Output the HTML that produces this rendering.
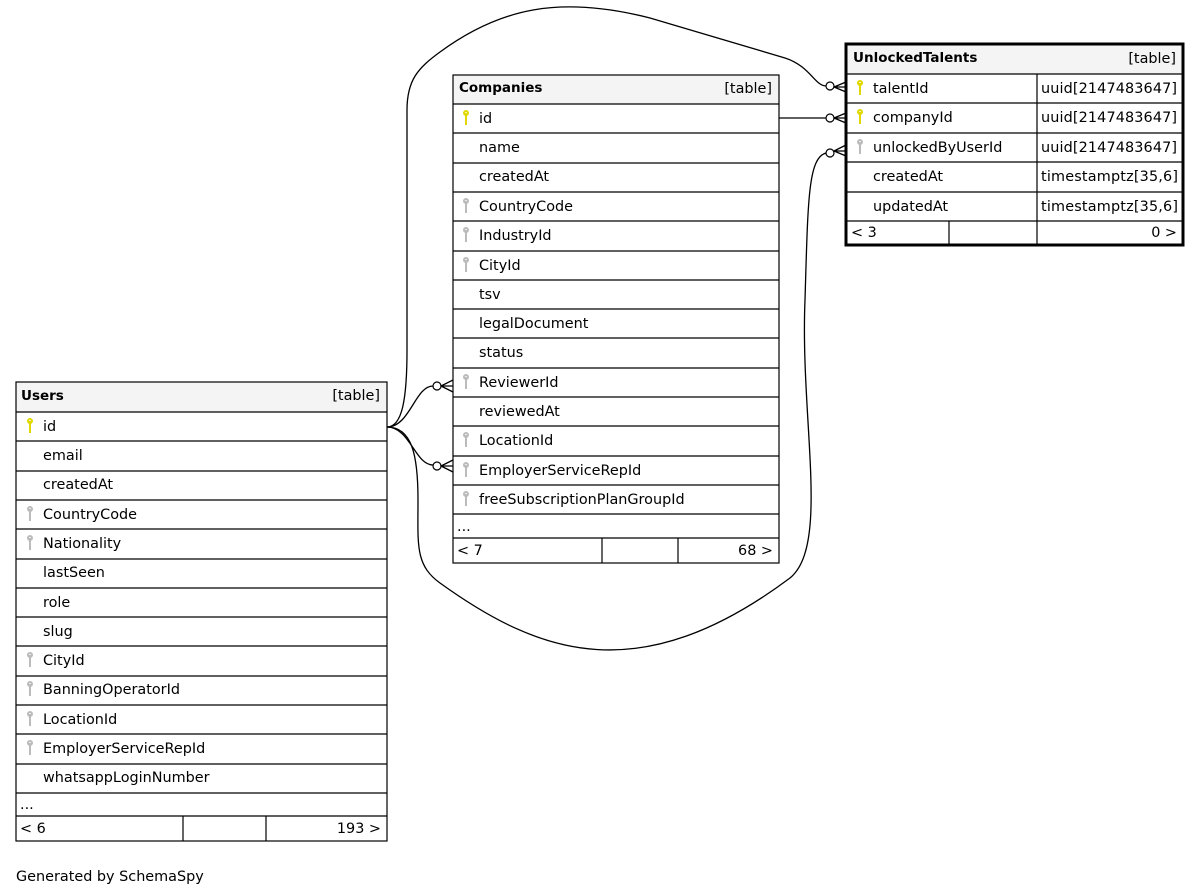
<!DOCTYPE html>
<html><head><meta charset="utf-8"><style>
html,body{margin:0;padding:0;background:#fff;}
svg{display:block;font-family:"DejaVu Sans","Liberation Sans",sans-serif;font-size:14.4px;}
</style></head><body>
<svg width="1201" height="896" viewBox="0 0 1201 896" xmlns="http://www.w3.org/2000/svg">
<g fill="none" stroke="#000" stroke-width="1.3">
<path d="M387,427 C410,427 415,386 433,386"/>
<path d="M387,427 C410,427 415,465 433,465"/>
<path d="M387,427 C412,427 418,455 418,500 C418,545 415,565 440,583 C540,655 640,690 790,578 C830,545 800,420 805,300 C808,200 808,158 826,153"/>
<path d="M387,427 C402,427 407,400 407,350 L407,110 C407,80 418,68 440,52 C500,8 560,-5 650,18 L785,58 C810,66 815,86 826,86"/>
<path d="M779,118 L826,118"/>
</g>
<g fill="#fff" stroke="#000" stroke-width="1.2">
<circle cx="437" cy="386" r="4"/><circle cx="437" cy="466" r="4"/>
<circle cx="830" cy="86" r="4"/><circle cx="830" cy="118" r="4"/><circle cx="830" cy="153" r="4"/>
</g>
<g stroke="#000" stroke-width="1.3" fill="none">
<path d="M441,386 L453,386 M441,386 L453,380 M441,386 L453,392"/>
<path d="M441,466 L453,466 M441,466 L453,460 M441,466 L453,472"/>
<path d="M834,87 L846,87 M834,87 L846,82 M834,87 L846,92"/>
<path d="M834,118 L846,118 M834,118 L846,113 M834,118 L846,123"/>
<path d="M834,151 L846,151 M834,151 L846,145 M834,151 L846,156"/>
</g>

<rect x="16" y="382" width="371" height="30" fill="#f4f4f4"/>
<g stroke="#000" stroke-width="1.2" fill="none">
<rect x="16" y="382" width="371" height="459"/>
<path d="M16,412H387M16,441H387M16,471H387M16,500H387M16,529H387M16,559H387M16,588H387M16,617H387M16,646H387M16,676H387M16,705H387M16,734H387M16,764H387M16,793H387M16,816H387M183,816V841M266,816V841"/>
</g>
<text x="21" y="400" font-weight="bold" font-size="13.5">Users</text>
<text x="380" y="400" text-anchor="end">[table]</text>
<g>
<text x="43" y="431">id</text><text x="43" y="460">email</text><text x="43" y="489">createdAt</text>
<text x="43" y="519">CountryCode</text><text x="43" y="548">Nationality</text><text x="43" y="577">lastSeen</text>
<text x="43" y="607">role</text><text x="43" y="636">slug</text><text x="43" y="665">CityId</text>
<text x="43" y="694">BanningOperatorId</text><text x="43" y="724">LocationId</text><text x="43" y="753">EmployerServiceRepId</text>
<text x="43" y="782">whatsappLoginNumber</text><text x="20" y="809">...</text>
<text x="20" y="833">&lt; 6</text><text x="381" y="833" text-anchor="end">193 &gt;</text>
</g>

<rect x="453" y="75" width="326" height="29" fill="#f4f4f4"/>
<g stroke="#000" stroke-width="1.2" fill="none">
<rect x="453" y="75" width="326" height="488"/>
<path d="M453,104H779M453,133H779M453,163H779M453,192H779M453,221H779M453,251H779M453,280H779M453,309H779M453,338H779M453,368H779M453,397H779M453,426H779M453,456H779M453,485H779M453,514H779M453,538H779M602,538V563M678,538V563"/>
</g>
<text x="459" y="92" font-weight="bold" font-size="13.5">Companies</text>
<text x="772" y="93" text-anchor="end">[table]</text>
<g>
<text x="479" y="123">id</text><text x="479" y="152">name</text><text x="479" y="181">createdAt</text>
<text x="479" y="211">CountryCode</text><text x="479" y="240">IndustryId</text><text x="479" y="270">CityId</text>
<text x="479" y="299">tsv</text><text x="479" y="328">legalDocument</text><text x="479" y="357">status</text>
<text x="479" y="387">ReviewerId</text><text x="479" y="416">reviewedAt</text><text x="479" y="445">LocationId</text>
<text x="479" y="475">EmployerServiceRepId</text><text x="479" y="504">freeSubscriptionPlanGroupId</text>
<text x="457" y="531">...</text><text x="457" y="555">&lt; 7</text><text x="773" y="555" text-anchor="end">68 &gt;</text>
</g>

<rect x="846" y="44" width="337" height="30" fill="#f4f4f4"/>
<g stroke="#000" fill="none">
<rect x="846" y="44" width="337" height="201" stroke-width="3"/>
<path stroke-width="1.2" d="M846,74H1183M846,103H1183M846,133H1183M846,162H1183M846,192H1183M846,221H1183M1037,74V245M949,221V245"/>
</g>
<text x="853" y="62" font-weight="bold" font-size="13.5">UnlockedTalents</text>
<text x="1176" y="63" text-anchor="end">[table]</text>
<g>
<text x="873" y="93">talentId</text><text x="1041" y="93" textLength="136">uuid[2147483647]</text>
<text x="873" y="122">companyId</text><text x="1041" y="122" textLength="136">uuid[2147483647]</text>
<text x="873" y="152">unlockedByUserId</text><text x="1041" y="152" textLength="136">uuid[2147483647]</text>
<text x="873" y="181">createdAt</text><text x="1041" y="181" textLength="137">timestamptz[35,6]</text>
<text x="873" y="211">updatedAt</text><text x="1041" y="211" textLength="137">timestamptz[35,6]</text>
<text x="851" y="237">&lt; 3</text><text x="1177" y="237" text-anchor="end">0 &gt;</text>
</g>

<g stroke-width="2" fill="none">
<g stroke="#e0d800">
<path d="M30,421v12"/><circle cx="30" cy="421" r="2"/>
<path d="M466,113v12"/><circle cx="466" cy="113" r="2"/>
<path d="M860,83v12"/><circle cx="860" cy="83" r="2"/>
<path d="M860,112v12"/><circle cx="860" cy="112" r="2"/>
</g>
<g stroke="#bbb">
<path d="M30,509v12M30,538v12M30,655v12M30,684v12M30,714v12M30,743v12"/>
<circle cx="30" cy="509" r="2"/><circle cx="30" cy="538" r="2"/><circle cx="30" cy="655" r="2"/><circle cx="30" cy="684" r="2"/><circle cx="30" cy="714" r="2"/><circle cx="30" cy="743" r="2"/>
<path d="M466,201v12M466,230v12M466,260v12M466,377v12M466,435v12M466,465v12M466,494v12"/>
<circle cx="466" cy="201" r="2"/><circle cx="466" cy="230" r="2"/><circle cx="466" cy="260" r="2"/><circle cx="466" cy="377" r="2"/><circle cx="466" cy="435" r="2"/><circle cx="466" cy="465" r="2"/><circle cx="466" cy="494" r="2"/>
<path d="M860,142v12"/><circle cx="860" cy="142" r="2"/>
</g>
</g>

<text x="16" y="881">Generated by SchemaSpy</text>
</svg>
</body></html>
